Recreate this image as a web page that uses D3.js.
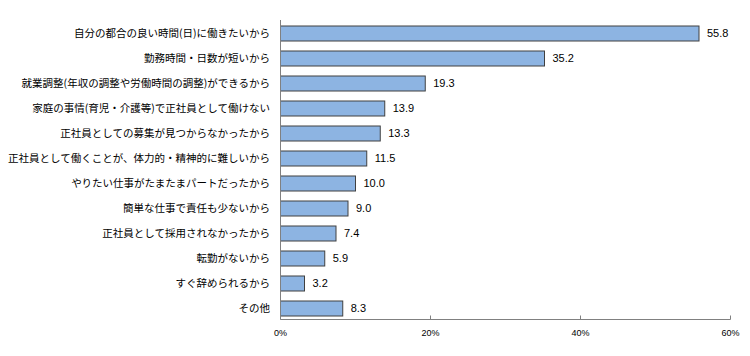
<!DOCTYPE html>
<html><head><meta charset="utf-8">
<script src="https://cdn.jsdelivr.net/npm/d3@7"></script>
<style>body{margin:0;background:#fff}</style>
</head><body><svg id="c" width="750" height="356"></svg>
<script>
const categories = ["自分の都合の良い時間(日)に働きたいから","勤務時間・日数が短いから","就業調整(年収の調整や労働時間の調整)ができるから","家庭の事情(育児・介護等)で正社員として働けない","正社員としての募集が見つからなかったから","正社員として働くことが、体力的・精神的に難しいから","やりたい仕事がたまたまパートだったから","簡単な仕事で責任も少ないから","正社員として採用されなかったから","転勤がないから","すぐ辞められるから","その他"];
const values = [55.8,35.2,19.3,13.9,13.3,11.5,10.0,9.0,7.4,5.9,3.2,8.3];
const ticks = [0,20,40,60];

const svg = d3.select("#c");
const x = d3.scaleLinear().domain([0,60]).range([280.5,730.5]);
const y = d3.scaleBand().domain(categories).range([21,321]).paddingInner(0.4).paddingOuter(0.2);

// bars
svg.selectAll("rect.bar").data(values).join("rect")
  .attr("x", x(0)).attr("y",(d,i)=>y(categories[i]))
  .attr("width", d=>x(d)-x(0)).attr("height", y.bandwidth())
  .attr("fill","#8DB4E2").attr("stroke","#404040").attr("stroke-width",1);

// value labels
svg.selectAll("text.val").data(values).join("text")
  .attr("x", d=>x(d)+8).attr("y",(d,i)=>y(categories[i])+y.bandwidth()/2)
  .attr("dy","0.36em").attr("font-family","Liberation Sans, Arial, sans-serif")
  .attr("font-size","11px").attr("fill","#000").text(d=>d.toFixed(1));

// y axis line
svg.append("line").attr("x1",x(0)).attr("x2",x(0)).attr("y1",20).attr("y2",319.5)
  .attr("stroke","#808080").attr("stroke-width",1);

// x axis
const xa = svg.append("g").attr("transform","translate(0,319.5)");
xa.append("line").attr("x1",x(0)).attr("x2",x(60)).attr("stroke","#808080");
xa.selectAll("line.t").data(ticks).join("line")
  .attr("x1",d=>x(d)).attr("x2",d=>x(d)).attr("y1",-4).attr("y2",0).attr("stroke","#808080");
xa.selectAll("text").data(ticks).join("text")
  .attr("x",d=>x(d)).attr("y",16).attr("text-anchor","middle")
  .attr("font-family","Liberation Sans, Arial, sans-serif").attr("font-size","9px")
  .text(d=>d+"%");

// category labels
svg.selectAll("text.cat").data(categories).join("text")
  .attr("x",270).attr("y",d=>y(d)+y.bandwidth()/2).attr("dy","0.36em")
  .attr("text-anchor","end").attr("font-family","Noto Sans CJK JP, sans-serif")
  .attr("font-size","10.5px").attr("fill","#000").text(d=>d);
</script></body></html>
